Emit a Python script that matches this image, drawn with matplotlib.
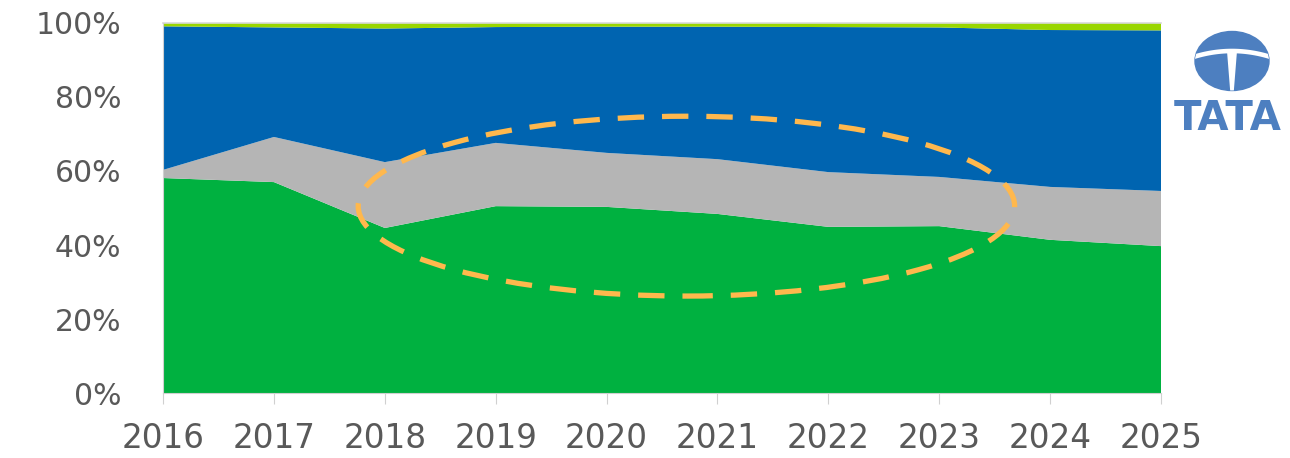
import numpy as np
import matplotlib.pyplot as plt
from matplotlib.patches import Ellipse

years = [2016, 2017, 2018, 2019, 2020, 2021, 2022, 2023, 2024, 2025]
# cumulative shares (%)
green_top = [58.1, 57.0, 44.6, 50.5, 50.3, 48.4, 44.9, 45.1, 41.4, 39.7]
grey_top = [60.3, 69.2, 62.4, 67.6, 64.9, 63.2, 59.7, 58.4, 55.7, 54.6]
blue_top = [99.1, 98.8, 98.5, 98.9, 99.0, 99.0, 98.9, 98.8, 98.1, 98.0]

green = np.array(green_top)
grey = np.array(grey_top) - green
blue = np.array(blue_top) - np.array(grey_top)
lime = 100 - np.array(blue_top)
ytick_labels = ['0%', '20%', '40%', '60%', '80%', '100%']

fig = plt.figure(figsize=(12.9, 4.58), dpi=100)
ax = fig.add_axes([0.1264, 0.1419, 0.7736, 0.8079])

ax.stackplot(years, green, grey, blue, lime,
             colors=['#00B140', '#B5B5B5', '#0064B0', '#99D600'], lw=0)
ax.axhline(100, color='#D9D9D9', lw=1.2, clip_on=False)

ax.set_xlim(2016, 2025)
ax.set_ylim(0, 100)
ax.set_xticks(years)
ax.set_xticklabels([str(y) for y in years])
ax.set_yticks([0, 20, 40, 60, 80, 100])
ax.set_yticklabels(ytick_labels)
for s in ['top', 'right']:
    ax.spines[s].set_visible(False)
ax.spines['left'].set_color('#D0D0D0')
ax.spines['bottom'].set_color('#D0D0D0')
ax.tick_params(axis='y', length=0, pad=30, labelsize=21.5, labelcolor='#595959')
ax.tick_params(axis='x', length=8, color='#D0D0D0', pad=13, labelsize=23.5, labelcolor='#595959')

# dashed highlight ellipse
ell = Ellipse((2020.72, 50.5), 5.92, 48.6, fill=False, ec='#FFB84D', lw=3.8,
              ls=(0, (5, 3.4)), clip_on=False)
ax.add_patch(ell)

# TATA logo (approximation)
logo_blue = '#4D7FC0'
lax = fig.add_axes([1170 / 1290, 1 - 140 / 458, 118 / 1290, 140 / 458])
lax.set_xlim(0, 118)
lax.set_ylim(0, 140)
lax.axis('off')
badge = Ellipse((62, 79), 74, 59, color=logo_blue)
lax.add_patch(badge)
bx = np.linspace(20, 104, 60)
band, = lax.plot(bx, 89 - 5.5 * ((bx - 62) / 37) ** 2, color='white', lw=3.3)
stem = lax.fill([57, 67, 63.5, 60.5], [89, 89, 45, 45], color='white', lw=0)[0]
band.set_clip_path(badge)
stem.set_clip_path(badge)
lax.text(58, 20.5, 'TATA', ha='center', va='center', fontsize=29, fontweight='heavy',
         color=logo_blue)

fig.savefig('out.png', dpi=100)
